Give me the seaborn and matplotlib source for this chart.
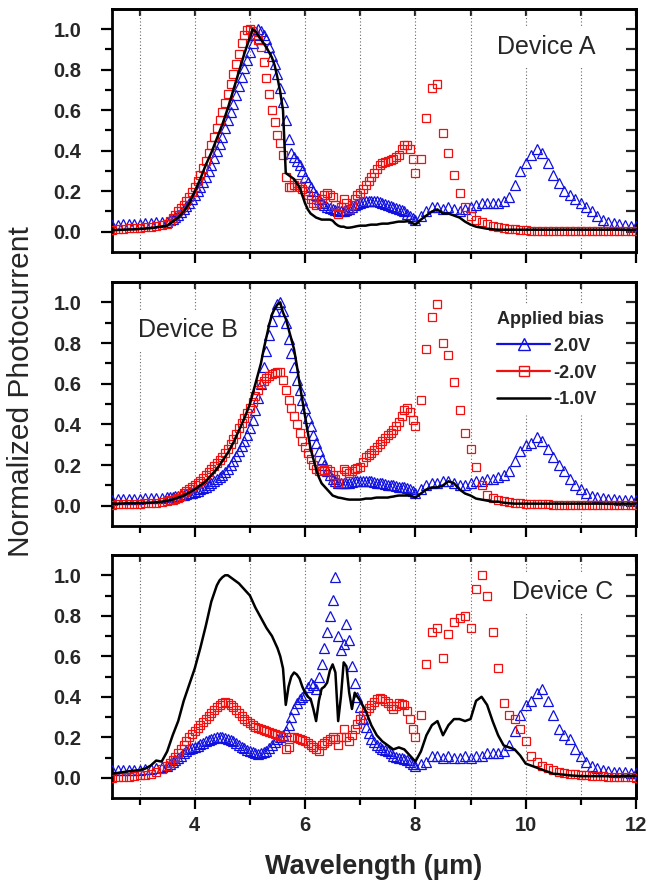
import matplotlib
matplotlib.use("Agg")
import matplotlib.pyplot as plt
import seaborn as sns
from matplotlib.lines import Line2D
from matplotlib.ticker import FixedLocator, FormatStrFormatter

# wavelength grid (um): coarse at the ends, finer through 3.5-8 um
WAVELENGTH = [
    2.5, 2.6, 2.7, 2.8, 2.9, 3.0, 3.1, 3.2, 3.3, 3.4,
    3.5, 3.55, 3.6, 3.65, 3.7, 3.75, 3.8, 3.85, 3.9, 3.95,
    4.0, 4.05, 4.1, 4.15, 4.2, 4.25, 4.3, 4.35, 4.4, 4.45,
    4.5, 4.55, 4.6, 4.65, 4.7, 4.75, 4.8, 4.85, 4.9, 4.95,
    5.0, 5.05, 5.1, 5.15, 5.2, 5.25, 5.3, 5.35, 5.4, 5.45,
    5.5, 5.55, 5.6, 5.65, 5.7, 5.75, 5.8, 5.85, 5.9, 5.95,
    6.0, 6.05, 6.1, 6.15, 6.2, 6.25, 6.3, 6.35, 6.4, 6.45,
    6.5, 6.55, 6.6, 6.65, 6.7, 6.75, 6.8, 6.85, 6.9, 6.95,
    7.0, 7.05, 7.1, 7.15, 7.2, 7.25, 7.3, 7.35, 7.4, 7.45,
    7.5, 7.55, 7.6, 7.65, 7.7, 7.75, 7.8, 7.85, 7.9, 7.95,
    8.0, 8.1, 8.2, 8.3, 8.4,
    8.5, 8.6, 8.7, 8.8, 8.9, 9.0, 9.1, 9.2, 9.3, 9.4,
    9.5, 9.6, 9.7, 9.8, 9.9, 10.0, 10.1, 10.2, 10.3, 10.4,
    10.5, 10.6, 10.7, 10.8, 10.9, 11.0, 11.1, 11.2, 11.3, 11.4,
    11.5, 11.6, 11.7, 11.8, 11.9, 12.0,
]

# ---- Device A ----
A_POS2 = [
    0.035, 0.035, 0.036, 0.037, 0.038, 0.040, 0.042, 0.044, 0.046, 0.048,
    0.050, 0.057, 0.065, 0.075, 0.085, 0.097, 0.11, 0.125, 0.14, 0.16,
    0.18, 0.20, 0.22, 0.245, 0.27, 0.30, 0.33, 0.365, 0.40, 0.435,
    0.47, 0.51, 0.55, 0.59, 0.63, 0.675, 0.72, 0.765, 0.81, 0.85,
    0.89, 0.93, 0.97, 1.00, 0.99, 0.97, 0.95, 0.91, 0.87, 0.83,
    0.78, 0.71, 0.64, 0.55, 0.46, 0.39, 0.37, 0.35, 0.33, 0.30,
    0.27, 0.245, 0.22, 0.20, 0.18, 0.16, 0.14, 0.13, 0.12, 0.115,
    0.11, 0.105, 0.10, 0.10, 0.10, 0.105, 0.11, 0.12, 0.13, 0.135,
    0.14, 0.145, 0.15, 0.15, 0.15, 0.15, 0.15, 0.145, 0.14, 0.135,
    0.13, 0.125, 0.12, 0.115, 0.11, 0.105, 0.10, 0.09, 0.08, 0.07,
    0.06, 0.08, 0.10, 0.12, 0.12,
    0.11, 0.12, 0.11, 0.10, 0.11, 0.12, 0.13, 0.14, 0.14, 0.14,
    0.14, 0.15, 0.17, 0.23, 0.30, 0.34, 0.38, 0.41, 0.39, 0.34,
    0.28, 0.24, 0.20, 0.18, 0.16, 0.14, 0.12, 0.10, 0.08, 0.06,
    0.05, 0.045, 0.04, 0.035, 0.03, 0.03,
]
A_NEG2 = [
    0.010, 0.012, 0.014, 0.016, 0.018, 0.020, 0.022, 0.025, 0.028, 0.032,
    0.04, 0.055, 0.07, 0.085, 0.10, 0.115, 0.13, 0.15, 0.17, 0.195,
    0.22, 0.25, 0.28, 0.315, 0.35, 0.39, 0.43, 0.47, 0.51, 0.55,
    0.59, 0.635, 0.68, 0.73, 0.78, 0.83, 0.88, 0.93, 0.97, 0.995,
    1.00, 0.99, 0.97, 0.945, 0.91, 0.84, 0.76, 0.68, 0.60, 0.54,
    0.48, 0.44, 0.38, 0.27, 0.22, 0.22, 0.23, 0.24, 0.22, 0.21,
    0.20, 0.18, 0.16, 0.14, 0.13, 0.14, 0.16, 0.18, 0.19, 0.18,
    0.17, 0.13, 0.09, 0.12, 0.16, 0.14, 0.11, 0.13, 0.16, 0.18,
    0.19, 0.21, 0.23, 0.25, 0.27, 0.29, 0.31, 0.33, 0.34, 0.345,
    0.35, 0.355, 0.36, 0.37, 0.38, 0.41, 0.43, 0.43, 0.41, 0.36,
    0.29, 0.36, 0.56, 0.71, 0.73,
    0.49, 0.39, 0.28, 0.19, 0.12, 0.08, 0.06, 0.05, 0.04, 0.03,
    0.025, 0.02, 0.015, 0.012, 0.01, 0.008, 0.006, 0.005, 0.004, 0.004,
    0.003, 0.003, 0.003, 0.003, 0.003, 0.003, 0.003, 0.003, 0.003, 0.003,
    0.003, 0.003, 0.003, 0.003, 0.003, 0.003,
]
A_NEG1 = [
    0.008, 0.009, 0.010, 0.011, 0.012, 0.014, 0.016, 0.018, 0.022, 0.026,
    0.03, 0.04, 0.05, 0.06, 0.07, 0.085, 0.10, 0.12, 0.14, 0.17,
    0.20, 0.23, 0.26, 0.295, 0.33, 0.36, 0.39, 0.425, 0.46, 0.495,
    0.53, 0.57, 0.61, 0.655, 0.70, 0.745, 0.79, 0.835, 0.88, 0.92,
    0.96, 1.00, 0.99, 0.97, 0.95, 0.93, 0.91, 0.885, 0.86, 0.82,
    0.76, 0.69, 0.60, 0.29, 0.28, 0.27, 0.26, 0.24, 0.22, 0.18,
    0.14, 0.11, 0.09, 0.08, 0.07, 0.065, 0.06, 0.06, 0.06, 0.06,
    0.055, 0.04, 0.03, 0.025, 0.025, 0.02, 0.02, 0.022, 0.025, 0.028,
    0.03, 0.03, 0.03, 0.033, 0.035, 0.035, 0.035, 0.038, 0.04, 0.04,
    0.04, 0.043, 0.045, 0.048, 0.05, 0.05, 0.05, 0.052, 0.05, 0.042,
    0.035, 0.06, 0.08, 0.10, 0.11,
    0.09, 0.09, 0.08, 0.07, 0.05, 0.035, 0.025, 0.02, 0.015, 0.012,
    0.01, 0.01, 0.01, 0.01, 0.01, 0.01, 0.01, 0.01, 0.01, 0.01,
    0.01, 0.01, 0.01, 0.01, 0.01, 0.01, 0.01, 0.01, 0.01, 0.01,
    0.01, 0.01, 0.01, 0.01, 0.01, 0.01,
]

# ---- Device B ----
B_POS2 = [
    0.030, 0.031, 0.032, 0.033, 0.034, 0.035, 0.036, 0.037, 0.038, 0.040,
    0.042, 0.043, 0.045, 0.047, 0.05, 0.052, 0.055, 0.058, 0.06, 0.062,
    0.065, 0.072, 0.08, 0.085, 0.09, 0.10, 0.11, 0.12, 0.13, 0.14,
    0.15, 0.165, 0.18, 0.20, 0.22, 0.245, 0.27, 0.295, 0.32, 0.35,
    0.38, 0.42, 0.47, 0.53, 0.60, 0.68, 0.76, 0.84, 0.91, 0.96,
    0.99, 1.00, 0.96, 0.90, 0.82, 0.75, 0.68, 0.62, 0.57, 0.52,
    0.48, 0.43, 0.39, 0.35, 0.31, 0.27, 0.23, 0.20, 0.17, 0.15,
    0.13, 0.12, 0.11, 0.11, 0.11, 0.11, 0.11, 0.115, 0.12, 0.12,
    0.12, 0.12, 0.12, 0.12, 0.12, 0.115, 0.11, 0.11, 0.11, 0.105,
    0.10, 0.10, 0.10, 0.095, 0.09, 0.09, 0.09, 0.085, 0.08, 0.07,
    0.06, 0.08, 0.10, 0.11, 0.11,
    0.12, 0.12, 0.11, 0.10, 0.10, 0.11, 0.12, 0.12, 0.13, 0.13,
    0.14, 0.15, 0.17, 0.22, 0.27, 0.30, 0.31, 0.34, 0.32, 0.28,
    0.24, 0.20, 0.17, 0.13, 0.10, 0.08, 0.06, 0.05, 0.045, 0.04,
    0.035, 0.035, 0.03, 0.03, 0.03, 0.03,
]
B_NEG2 = [
    0.005, 0.006, 0.007, 0.008, 0.009, 0.010, 0.011, 0.013, 0.015, 0.018,
    0.022, 0.026, 0.03, 0.035, 0.04, 0.05, 0.06, 0.07, 0.08, 0.09,
    0.10, 0.11, 0.12, 0.135, 0.15, 0.165, 0.18, 0.195, 0.21, 0.225,
    0.24, 0.26, 0.28, 0.305, 0.33, 0.355, 0.38, 0.405, 0.43, 0.455,
    0.48, 0.51, 0.54, 0.57, 0.60, 0.615, 0.63, 0.64, 0.65, 0.655,
    0.66, 0.66, 0.62, 0.57, 0.52, 0.48, 0.44, 0.40, 0.36, 0.32,
    0.29, 0.26, 0.23, 0.20, 0.18, 0.17, 0.17, 0.175, 0.18, 0.17,
    0.15, 0.13, 0.11, 0.15, 0.18, 0.17, 0.16, 0.17, 0.18, 0.185,
    0.19, 0.215, 0.24, 0.25, 0.26, 0.275, 0.29, 0.305, 0.32, 0.335,
    0.35, 0.36, 0.37, 0.39, 0.41, 0.44, 0.47, 0.48, 0.46, 0.42,
    0.39, 0.52, 0.77, 0.93, 0.99,
    0.80, 0.74, 0.61, 0.47, 0.36, 0.28, 0.19, 0.10, 0.055, 0.04,
    0.03, 0.025, 0.02, 0.015, 0.012, 0.01, 0.008, 0.007, 0.006, 0.006,
    0.005, 0.005, 0.005, 0.005, 0.005, 0.005, 0.005, 0.005, 0.005, 0.005,
    0.005, 0.005, 0.005, 0.005, 0.005, 0.005,
]
B_NEG1 = [
    0.010, 0.010, 0.011, 0.012, 0.012, 0.013, 0.014, 0.015, 0.017, 0.020,
    0.024, 0.027, 0.03, 0.035, 0.04, 0.045, 0.05, 0.057, 0.065, 0.072,
    0.08, 0.09, 0.10, 0.11, 0.12, 0.135, 0.15, 0.165, 0.18, 0.20,
    0.22, 0.24, 0.26, 0.285, 0.31, 0.34, 0.37, 0.40, 0.43, 0.465,
    0.50, 0.55, 0.60, 0.65, 0.70, 0.77, 0.83, 0.89, 0.94, 0.97,
    0.99, 1.00, 0.95, 0.92, 0.87, 0.82, 0.77, 0.69, 0.60, 0.52,
    0.44, 0.36, 0.28, 0.23, 0.18, 0.14, 0.11, 0.095, 0.08, 0.065,
    0.05, 0.045, 0.04, 0.038, 0.035, 0.032, 0.03, 0.03, 0.03, 0.03,
    0.03, 0.032, 0.035, 0.035, 0.035, 0.038, 0.04, 0.04, 0.04, 0.04,
    0.04, 0.043, 0.045, 0.048, 0.05, 0.05, 0.05, 0.05, 0.05, 0.045,
    0.04, 0.06, 0.08, 0.09, 0.09,
    0.10, 0.12, 0.11, 0.08, 0.06, 0.05, 0.035, 0.03, 0.025, 0.02,
    0.02, 0.015, 0.012, 0.01, 0.01, 0.01, 0.01, 0.01, 0.01, 0.01,
    0.01, 0.01, 0.01, 0.01, 0.01, 0.01, 0.01, 0.01, 0.01, 0.01,
    0.01, 0.01, 0.01, 0.01, 0.01, 0.01,
]

# ---- Device C ----
C_POS2 = [
    0.036, 0.037, 0.038, 0.039, 0.040, 0.040, 0.042, 0.045, 0.048, 0.052,
    0.06, 0.07, 0.08, 0.09, 0.10, 0.11, 0.12, 0.13, 0.14, 0.145,
    0.15, 0.158, 0.165, 0.172, 0.18, 0.185, 0.19, 0.195, 0.20, 0.20,
    0.20, 0.195, 0.19, 0.185, 0.18, 0.17, 0.16, 0.152, 0.145, 0.137,
    0.13, 0.125, 0.12, 0.118, 0.12, 0.125, 0.13, 0.145, 0.16, 0.175,
    0.19, 0.20, 0.21, 0.23, 0.26, 0.30, 0.34, 0.37, 0.39, 0.40,
    0.41, 0.45, 0.47, 0.46, 0.44, 0.50, 0.56, 0.64, 0.72, 0.80,
    0.88, 0.99, 0.70, 0.63, 0.66, 0.76, 0.68, 0.55, 0.47, 0.40,
    0.35, 0.29, 0.25, 0.22, 0.19, 0.175, 0.16, 0.15, 0.14, 0.135,
    0.13, 0.12, 0.11, 0.105, 0.10, 0.098, 0.095, 0.09, 0.08, 0.07,
    0.06, 0.07, 0.08, 0.11, 0.11,
    0.10, 0.11, 0.10, 0.10, 0.11, 0.10, 0.11, 0.11, 0.12, 0.12,
    0.12, 0.13, 0.16, 0.23, 0.31, 0.36, 0.38, 0.42, 0.44, 0.38,
    0.31, 0.24, 0.21, 0.19, 0.14, 0.11, 0.08, 0.06, 0.05, 0.04,
    0.035, 0.03, 0.03, 0.028, 0.025, 0.025,
]
C_NEG2 = [
    0.0, 0.002, 0.004, 0.006, 0.008, 0.012, 0.016, 0.02, 0.03, 0.045,
    0.06, 0.075, 0.09, 0.105, 0.12, 0.14, 0.16, 0.18, 0.20, 0.215,
    0.23, 0.245, 0.26, 0.275, 0.29, 0.305, 0.32, 0.335, 0.35, 0.36,
    0.37, 0.372, 0.37, 0.36, 0.35, 0.335, 0.32, 0.305, 0.29, 0.28,
    0.27, 0.26, 0.25, 0.245, 0.24, 0.235, 0.23, 0.225, 0.22, 0.215,
    0.21, 0.205, 0.20, 0.14, 0.15, 0.20, 0.20, 0.195, 0.19, 0.185,
    0.18, 0.17, 0.16, 0.15, 0.14, 0.13, 0.16, 0.17, 0.18, 0.19,
    0.20, 0.19, 0.16, 0.20, 0.24, 0.20, 0.18, 0.21, 0.24, 0.265,
    0.29, 0.31, 0.33, 0.345, 0.36, 0.375, 0.39, 0.395, 0.39, 0.38,
    0.37, 0.355, 0.34, 0.355, 0.37, 0.365, 0.36, 0.33, 0.29, 0.24,
    0.20, 0.31, 0.56, 0.72, 0.74,
    0.59, 0.71, 0.77, 0.79, 0.80, 0.74, 0.93, 1.00, 0.90, 0.72,
    0.54, 0.37, 0.31, 0.29, 0.24, 0.18, 0.11, 0.08, 0.06, 0.05,
    0.04, 0.03, 0.025, 0.02, 0.018, 0.015, 0.012, 0.01, 0.01, 0.008,
    0.006, 0.005, 0.004, 0.003, 0.002, 0.0,
]
C_NEG1 = [
    0.02, 0.024, 0.028, 0.032, 0.035, 0.038, 0.045, 0.06, 0.085, 0.08,
    0.13, 0.17, 0.21, 0.245, 0.28, 0.33, 0.38, 0.42, 0.46, 0.50,
    0.54, 0.59, 0.64, 0.695, 0.75, 0.81, 0.87, 0.91, 0.95, 0.975,
    0.99, 1.00, 1.00, 0.99, 0.98, 0.97, 0.96, 0.945, 0.93, 0.915,
    0.90, 0.87, 0.84, 0.815, 0.79, 0.765, 0.74, 0.72, 0.70, 0.67,
    0.64, 0.60, 0.54, 0.36, 0.45, 0.50, 0.52, 0.51, 0.49, 0.45,
    0.42, 0.40, 0.39, 0.34, 0.28, 0.38, 0.44, 0.45, 0.47, 0.53,
    0.56, 0.52, 0.28, 0.40, 0.57, 0.55, 0.42, 0.34, 0.42, 0.40,
    0.38, 0.355, 0.33, 0.295, 0.26, 0.235, 0.21, 0.195, 0.18, 0.17,
    0.16, 0.15, 0.14, 0.145, 0.15, 0.145, 0.14, 0.125, 0.11, 0.095,
    0.08, 0.13, 0.21, 0.26, 0.28,
    0.21, 0.26, 0.29, 0.29, 0.28, 0.29, 0.38, 0.40, 0.36, 0.28,
    0.21, 0.16, 0.15, 0.14, 0.11, 0.07, 0.06, 0.05, 0.04, 0.03,
    0.02, 0.018, 0.015, 0.012, 0.01, 0.008, 0.008, 0.008, 0.008, 0.008,
    0.008, 0.008, 0.008, 0.01, 0.01, 0.01,
]

PANELS = [
    ("Device A", A_POS2, A_NEG2, A_NEG1),
    ("Device B", B_POS2, B_NEG2, B_NEG1),
    ("Device C", C_POS2, C_NEG2, C_NEG1),
]
BIAS_LABELS = ["2.0V", "-2.0V", "-1.0V"]

BLUE = "#1010e0"
RED = "#f01010"

sns.set_theme(style="ticks")
plt.rcParams["font.family"] = ["Liberation Sans", "DejaVu Sans"]

fig = plt.figure(figsize=(6.49, 8.82), dpi=100)

# axes boxes in figure fraction (left, bottom, width, height)
boxes = [
    (0.1726, 0.7143, 0.8074, 0.2755),
    (0.1726, 0.4036, 0.8074, 0.2766),
    (0.1726, 0.0952, 0.8074, 0.2755),
]
label_pos = [(0.735, 0.844), (0.05, 0.803), (0.763, 0.848)]

axes = []
for i, (name, pos2, neg2, neg1) in enumerate(PANELS):
    ax = fig.add_axes(boxes[i])
    axes.append(ax)

    sns.lineplot(x=WAVELENGTH, y=pos2, ax=ax, color=BLUE, marker="^",
                 linestyle="none", markersize=7.5, markerfacecolor="none",
                 markeredgecolor=BLUE, markeredgewidth=0.9, zorder=3)
    sns.lineplot(x=WAVELENGTH, y=neg2, ax=ax, color=RED, marker="s",
                 linestyle="none", markersize=5.8, markerfacecolor="none",
                 markeredgecolor=RED, markeredgewidth=0.9, zorder=4)
    sns.lineplot(x=WAVELENGTH, y=neg1, ax=ax, color="black", linewidth=1.8,
                 zorder=5)

    ax.set_xlim(2.5, 12)
    ax.set_ylim(-0.1, 1.1)
    ax.set_xlabel("")
    ax.set_ylabel("")

    ax.xaxis.set_major_locator(FixedLocator([4, 6, 8, 10, 12]))
    ax.xaxis.set_minor_locator(FixedLocator([3, 5, 7, 9, 11]))
    ax.yaxis.set_major_locator(FixedLocator([0.0, 0.2, 0.4, 0.6, 0.8, 1.0]))
    ax.yaxis.set_minor_locator(FixedLocator([0.1, 0.3, 0.5, 0.7, 0.9]))
    ax.yaxis.set_major_formatter(FormatStrFormatter("%.1f"))

    ax.set_axisbelow(True)
    ax.xaxis.grid(True, which="both", linestyle=(0, (1, 2)), color="#666666",
                  linewidth=0.8)
    ax.yaxis.grid(False)

    for sp in ax.spines.values():
        sp.set_visible(True)
        sp.set_linewidth(2.0)
        sp.set_color("black")

    ax.tick_params(axis="both", which="major", direction="out", length=8,
                   width=1.6, color="black", labelsize=14.5, pad=5)
    ax.tick_params(axis="y", which="major", pad=14)
    ax.tick_params(axis="both", which="minor", direction="out", length=5,
                   width=1.6, color="black")
    for lab in ax.get_yticklabels() + ax.get_xticklabels():
        lab.set_fontweight("bold")
    if i < 2:
        ax.tick_params(axis="x", which="both", labelbottom=False)

    # mirrored inward ticks on top and right
    top = ax.secondary_xaxis("top")
    top.set_xticks([3, 4, 5, 6, 7, 8, 9, 10, 11, 12])
    top.tick_params(direction="in", length=5, width=1.6, labeltop=False)
    top.spines["top"].set_linewidth(2.0)
    right = ax.secondary_yaxis("right")
    right.set_yticks([0.0, 0.1, 0.2, 0.3, 0.4, 0.5, 0.6, 0.7, 0.8, 0.9, 1.0])
    right.tick_params(direction="in", length=7, width=1.6, labelright=False)
    right.spines["right"].set_linewidth(2.0)

    ax.text(label_pos[i][0], label_pos[i][1], name, transform=ax.transAxes,
            fontsize=18, ha="left", va="center", zorder=1,
            bbox=dict(facecolor="white", edgecolor="none", pad=6))

    if ax.get_legend() is not None:
        ax.get_legend().remove()

# legend on the middle panel
handles = [
    Line2D([], [], color=BLUE, marker="^", markersize=8,
           markerfacecolor="none", linewidth=1.6),
    Line2D([], [], color=RED, marker="s", markersize=6.5,
           markerfacecolor="none", linewidth=1.6),
    Line2D([], [], color="black", linewidth=1.8),
]
leg = axes[1].legend(handles, BIAS_LABELS, title="Applied bias",
                     loc="upper left", bbox_to_anchor=(0.725, 0.905),
                     frameon=True, facecolor="white", edgecolor="white",
                     framealpha=1.0, fancybox=False, alignment="left",
                     prop={"weight": "bold", "size": 13},
                     title_fontproperties={"weight": "bold", "size": 13},
                     handlelength=2.9, handletextpad=0.2, labelspacing=0.55,
                     borderaxespad=0.0, borderpad=0.3)
leg.set_zorder(6)

fig.text(0.032, 0.556, "Normalized Photocurrent", rotation=90,
         fontsize=21.5, ha="center", va="center")
fig.text(0.576, 0.017, "Wavelength (\u03bcm)", fontsize=19.5,
         fontweight="bold", ha="center", va="center")

fig.savefig("out.png", dpi=100)
